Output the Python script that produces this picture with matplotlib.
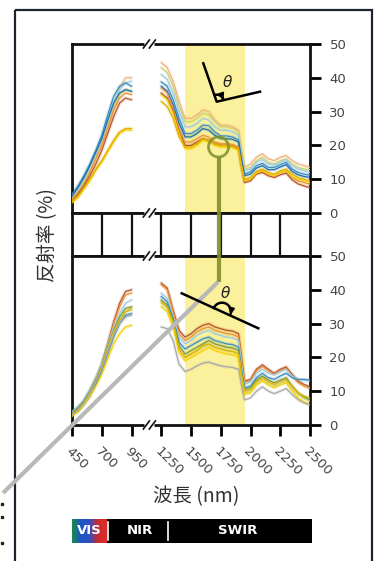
import numpy as np
import matplotlib
matplotlib.use('Agg')
import matplotlib.pyplot as plt
from matplotlib.patches import Rectangle, Circle
from matplotlib.colors import LinearSegmentedColormap

plt.rcParams['font.family'] = ['DejaVu Sans']
JP = ['Noto Sans CJK JP', 'DejaVu Sans']

# wavelength knots (nm)
vis_wl = [450, 500, 550, 600, 650, 700, 750, 800, 850, 900, 950]
swir_wl = [1250, 1300, 1350, 1400, 1450, 1500, 1550, 1600, 1650, 1700, 1750, 1800, 1850,
           1900, 1925, 1950, 2000, 2050, 2100, 2150, 2200, 2250, 2300, 2350, 2400, 2450, 2500]

tick_wl = [450, 700, 950, 1250, 1500, 1750, 2000, 2250, 2500]
band = (1450, 1950)

# upper panel: (colour, VIS reflectance, SWIR reflectance)
upper_colors = ['#f2b27c', '#c9d46c', '#9ecae1', '#3a8fc0', '#1f6fa8', '#e8943a', '#b8562a', '#f5d000', '#e0b000']
upper_vis = [
    [4, 6, 9, 13, 17, 21, 26, 32, 37, 40, 40],
    [4.5, 6.5, 9.5, 13, 16.5, 20.5, 25.5, 31, 35, 36.5, 36],
    [5, 7, 10, 13.5, 17.5, 21.5, 27, 32.5, 36.5, 38.5, 39],
    [5.5, 8, 11, 14.5, 18.5, 23, 29, 34.5, 37.5, 38.5, 37.5],
    [5, 7.5, 10.5, 14, 18, 22, 27.5, 32.5, 35.5, 36.5, 36],
    [4, 6, 8.5, 12, 16, 20, 25, 30.5, 34, 35.5, 35],
    [3.5, 5.5, 8, 11, 14.5, 18.5, 23.5, 28.5, 32.5, 34, 33.5],
    [3, 4.5, 7, 9.5, 12.5, 15, 18, 21, 23.5, 24.5, 24.5],
    [3.5, 5, 7.5, 10, 13, 15.5, 18.5, 21.5, 24, 25, 25],
]
upper_swir = [
    [44.5, 43, 39, 33, 28, 28, 29, 30.5, 30, 27.5, 26, 26, 25.5, 24.5, 18.5, 13.5, 14.5, 16.5, 17.5, 16, 15.5, 16.5, 17, 15.5, 14.5, 14, 13.5],
    [43, 41.5, 37.5, 31.5, 27, 27, 28, 29.5, 29, 27, 25.5, 25.5, 25, 24, 18, 13, 13.5, 15.5, 16.5, 15, 14.5, 15.5, 16, 14.5, 13.5, 13, 12.8],
    [41, 39.5, 35.5, 30, 25.5, 25.5, 26.5, 28, 27.5, 25.5, 24.5, 24.5, 24, 23, 17, 12.5, 13, 15, 15.8, 14.5, 14.2, 15, 15.8, 14, 13, 12.5, 12],
    [38.8, 37.5, 33.5, 28, 23.5, 23.5, 24.5, 26, 25.8, 24, 22.8, 22.8, 22.5, 21.6, 16, 11.5, 12.2, 14, 14.7, 13.5, 13.5, 14.3, 15, 13, 12, 11.5, 11.2],
    [37.5, 36, 32, 26.5, 22.5, 22.5, 23.5, 25, 24.5, 23, 22, 22, 21.8, 21, 15.5, 11, 11.5, 13.3, 14, 12.8, 12.8, 13.6, 14.3, 12.3, 11.3, 10.8, 10.5],
    [37, 35.5, 31, 25, 21, 21, 22, 23, 22.5, 21, 20.5, 20.5, 20.3, 19.5, 14, 9.5, 10, 12, 12.5, 11.5, 11, 12, 12.5, 10.5, 9.5, 9, 8.5],
    [35.5, 34, 30, 24, 20, 20, 21, 22, 21.5, 20.5, 20, 20, 19.8, 19, 13.5, 9, 9.5, 11.5, 12, 11, 10.5, 11.3, 11.8, 9.8, 8.6, 8, 7.5],
    [35, 33.5, 29.5, 23.5, 19, 19, 20, 21.5, 21, 20, 19.5, 19.5, 19.3, 18.5, 13.5, 9.5, 10, 11.8, 12.5, 11.5, 11, 12, 12.5, 10.8, 10, 9.5, 9],
    [33, 31.5, 28, 22.5, 19.5, 19.5, 20.5, 22, 21.5, 20.5, 20, 20, 19.8, 19, 14, 10, 10.5, 12.3, 13, 12, 11.5, 12.5, 13, 11.5, 10.5, 10, 9.5],
]

# lower panel
lower_colors = ['#b8562a', '#e8943a', '#9ecae1', '#3a8fc0', '#7a9a3a', '#c9d46c', '#f5d000', '#e0b000', '#a8a8a8']
lower_vis = [
    [3.5, 5, 7, 10, 13.5, 18, 24, 30.5, 36, 39.5, 40],
    [3.5, 5, 7, 10, 13.5, 17.5, 23.5, 30, 35, 38.5, 39],
    [4, 5.5, 7.5, 10.5, 14, 18, 23.5, 29, 33, 36, 37],
    [3, 4, 6, 8.5, 12, 16, 21, 26, 30, 32.5, 33],
    [3.5, 5, 7, 10, 13.5, 17.5, 23, 28, 32, 34.5, 35],
    [3, 4.5, 6.5, 9.5, 13, 17, 22.5, 27.5, 31, 33.5, 34],
    [2.5, 4, 6, 8.5, 11.5, 15, 19.5, 24, 27, 29, 29.5],
    [3, 4.5, 6.5, 9.5, 13, 17, 22, 27, 31, 33.5, 34.5],
    [3, 4.5, 6.5, 9.5, 13, 16.5, 21.5, 26.5, 30, 32, 32.5],
]
lower_swir = [
    [42, 40.5, 34, 28, 26, 27, 28.5, 29.5, 30, 29, 28.5, 28, 27.8, 27, 20, 13, 13.5, 16.5, 17.8, 16.5, 15.3, 16.5, 17.2, 15, 13, 12, 11.3],
    [41.5, 40, 33.5, 27, 25, 26, 27.5, 28.5, 29, 28, 27.5, 27, 26.8, 26, 19, 12.5, 13, 16, 17.3, 16, 15, 16, 16.8, 14.5, 12.5, 11.5, 10.8],
    [39, 37.5, 32, 26, 24, 25, 26.5, 27.5, 28, 27, 26.5, 26, 25.8, 25, 18, 12, 12.8, 15.3, 16.5, 15.3, 14.8, 15.8, 16.5, 14.5, 13.5, 13.2, 13],
    [38, 36.5, 31.5, 24.5, 22.5, 23.5, 24.5, 25.5, 26, 25, 24.5, 24, 23.8, 23, 16.5, 11, 11.5, 14, 15.3, 14, 13.5, 14.5, 15.3, 14, 13.5, 13.5, 13.3],
    [37, 35.5, 31, 23.5, 21, 22, 23, 24, 25, 24, 23.5, 23, 22.8, 22, 15.5, 10.5, 11, 13.3, 14.5, 13.3, 12.5, 13.3, 14, 11.5, 9.5, 8.3, 7.4],
    [36, 34.5, 30, 22.5, 20, 21, 22, 23, 23.8, 23, 22.5, 22, 21.8, 21, 14.5, 9.5, 10, 12.3, 13.5, 12.3, 11.5, 12.3, 13, 10.8, 9, 7.8, 7],
    [35, 33.5, 29, 21.5, 19, 20, 21, 22, 23, 22, 21.5, 21, 20.8, 20, 14, 9, 9.5, 11.8, 13, 11.8, 11, 11.8, 12.5, 10, 8, 6.8, 6],
    [36.5, 35, 30.5, 22.5, 20, 21, 22, 23.5, 24, 23, 22.5, 22, 21.8, 21, 15, 10, 10.5, 12.8, 14, 12.8, 12, 12.8, 13.5, 11.5, 9.5, 8.5, 8],
    [29, 28.5, 25, 18, 15.8, 16.5, 17.5, 18.3, 18.6, 18, 17.5, 17.2, 17, 16.5, 11.5, 7.4, 8, 10, 11.3, 10, 9.3, 10, 10.8, 9, 7.5, 6.5, 6],
]


def to_pos(wl):
    # broken axis: 450-950 and 1250-2500, 250 nm per tick step
    wl = np.asarray(wl, dtype=float)
    return np.where(wl <= 1100, (wl - 450) / 250, 3 + (wl - 1250) / 250)


W, H = 382, 561
fig = plt.figure(figsize=(W / 100, H / 100), dpi=100)


def rect(x0, y0, x1, y1):
    return [x0 / W, 1 - y1 / H, (x1 - x0) / W, (y1 - y0) / H]


ax_up = fig.add_axes(rect(72, 44, 310, 213))
ax_mid = fig.add_axes(rect(72, 213, 310, 256))
ax_lo = fig.add_axes(rect(72, 256, 310, 425))

tick_pos = to_pos(tick_wl)

for ax, cols, vis, swir in [(ax_up, upper_colors, upper_vis, upper_swir),
                            (ax_lo, lower_colors, lower_vis, lower_swir)]:
    ax.axvspan(to_pos(band[0]), to_pos(band[1]), color='#fbf19c', lw=0, zorder=0)
    for c, v, s in zip(cols, vis, swir):
        for xs, ys in [(vis_wl, v), (swir_wl, s)]:
            ax.plot(to_pos(xs), ys, color=c, lw=2.6, alpha=0.18, solid_capstyle='round', zorder=2)
            ax.plot(to_pos(xs), ys, color=c, lw=0.9, zorder=3)
    ax.set_xlim(0, 8)
    ax.set_ylim(0, 50)
    ax.yaxis.tick_right()
    ax.set_yticks([0, 10, 20, 30, 40, 50])
    ax.tick_params(axis='y', direction='out', length=8, width=2, labelsize=9.5,
                   labelcolor='#444444', pad=6)

for ax in [ax_up, ax_mid, ax_lo]:
    for sp in ax.spines.values():
        sp.set_linewidth(2)
        sp.set_color('#111111')
    ax.set_xlim(0, 8)

ax_up.set_xticks([])
ax_mid.set_xticks([])
ax_mid.set_yticks([])
ax_mid.set_ylim(0, 1)
for p in tick_pos[1:-1]:
    ax_mid.axvline(p, color='#111111', lw=1.6)

ax_lo.set_xticks(tick_pos)
ax_lo.set_xticklabels([str(t) for t in tick_wl], rotation=-45, ha='left', va='top',
                      rotation_mode='anchor')
ax_lo.tick_params(axis='x', direction='out', length=8, width=2, labelsize=9.5,
                  labelcolor='#444444', pad=6)

# overlay in pixel coordinates for annotations
ov = fig.add_axes([0, 0, 1, 1], zorder=10)
ov.set_xlim(0, W)
ov.set_ylim(H, 0)
ov.axis('off')

# outer frame
ov.add_patch(Rectangle((15, 10), 357, 600, fill=False, lw=1.6, ec='#1c2430'))

# axis break marks
xb = 72 + to_pos(1100) * 238 / 8
for yb in [44, 213, 256, 425]:
    ov.plot([xb - 5, xb + 5], [yb, yb], color='white', lw=3.5, solid_capstyle='butt')
    for dx in (-3, 3):
        ov.plot([xb + dx - 3, xb + dx + 3], [yb + 4, yb - 4], color='#111111', lw=1.2)

# circle + connector
olive = '#7f8f2a'
ov.add_patch(Circle((218.5, 147), 10, fill=False, ec=olive, lw=2, alpha=0.85))
ov.plot([218.5, 218.5], [157, 282], color=olive, lw=3, alpha=0.9, solid_capstyle='butt')
ov.plot([218, 3], [282, 493], color='#b8b8b8', lw=3, solid_capstyle='butt')


def arc_arrow(cx, cy, r, a1, a2):
    a = np.radians(np.linspace(a1, a2, 30))
    xs, ys = cx + r * np.cos(a), cy + r * np.sin(a)
    ov.plot(xs[:-3], ys[:-3], color='black', lw=1.8)
    ov.annotate('', xy=(xs[-1], ys[-1]), xytext=(xs[-4], ys[-4]),
                arrowprops=dict(arrowstyle='-|>', color='black', lw=1.5, mutation_scale=8))


# upper angle
ov.plot([203.3, 216.7, 260], [63.3, 101.7, 91.7], color='black', lw=1.8)
arc_arrow(216.7, 101.7, 7, -106, -16)
ov.text(227, 82, 'θ', fontsize=11, style='italic', ha='center', va='center', color='#222222')

# lower angle
ov.plot([181.7, 258.3], [293.3, 328.3], color='black', lw=1.8)
arc_arrow(222, 311.7, 9, 204.6, 380)
ov.text(225, 293, 'θ', fontsize=11, style='italic', ha='center', va='center', color='#222222')

# labels
ov.text(48, 235, '反射率 (%)', rotation=90, ha='center', va='center', fontsize=14,
        family=JP, color='#333333')
ov.text(196, 497, '波長 (nm)', ha='center', va='center', fontsize=14, family=JP, color='#333333')

# spectral region bar
ov.add_patch(Rectangle((72, 519), 240, 24, color='black', lw=0))
cmap = LinearSegmentedColormap.from_list('vis', ['#1b8a4a', '#1a56c8', '#3050c0', '#d02828', '#d83030'])
ov.imshow(np.linspace(0, 1, 64)[None, :], cmap=cmap, extent=(72, 107, 543, 519),
          aspect='auto', zorder=2)
ov.set_xlim(0, W)
ov.set_ylim(H, 0)
for xs in (107.5, 168):
    ov.plot([xs, xs], [522, 540], color='white', lw=1.2, zorder=3)
for x, s in [(89.5, 'VIS'), (140, 'NIR'), (238, 'SWIR')]:
    ov.text(x, 531, s, color='white', fontsize=9.5, fontweight='bold', ha='center',
            va='center', zorder=4)

# clipped text fragments at the left edge
ov.plot([1.5, 1.5, 1.5], [504, 517, 543], ls='none', marker='s', ms=1.5, color='#222222')

fig.savefig('out.png', dpi=100)
